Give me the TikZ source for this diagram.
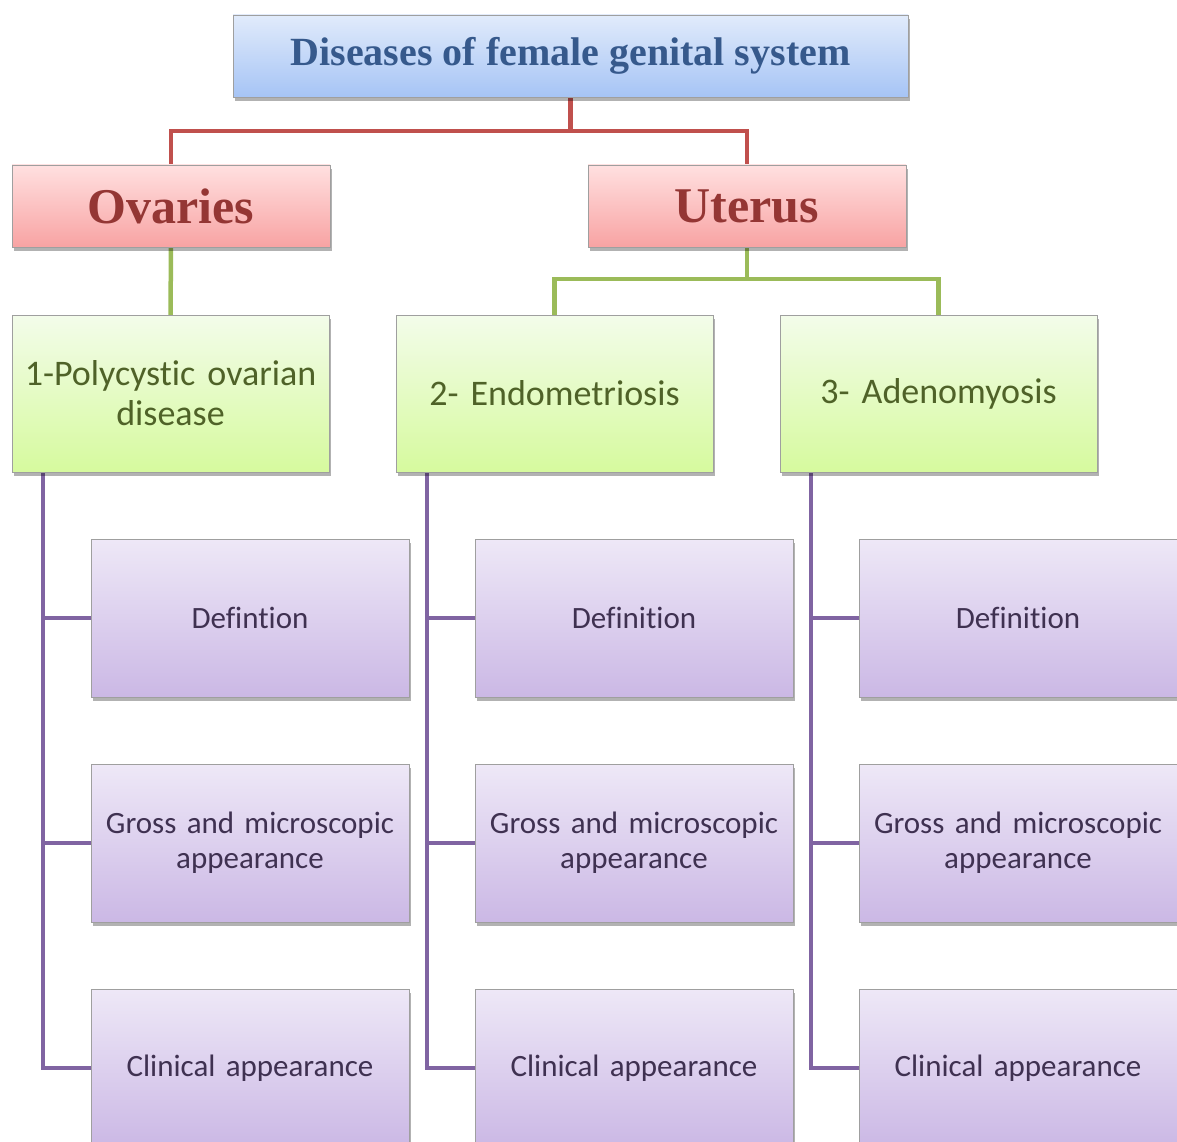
\documentclass[tikz,border=0pt]{standalone}
\usepackage{fontspec}
\setmainfont{Carlito}[Ligatures=NoCommon]
\newfontfamily\titlefont{Liberation Serif}
\usetikzlibrary{shadows,backgrounds}
\definecolor{tblueT}{HTML}{E1EBFB}
\definecolor{tblueB}{HTML}{A6C4F5}
\definecolor{ttext}{HTML}{36598C}
\definecolor{redline}{HTML}{C0504D}
\definecolor{pinkT}{HTML}{FFE0E0}
\definecolor{pinkB}{HTML}{F8A3A3}
\definecolor{redtext}{HTML}{943634}
\definecolor{greenline}{HTML}{9BBB59}
\definecolor{greenT}{HTML}{F3FCEA}
\definecolor{greenB}{HTML}{D6FA9E}
\definecolor{greentext}{HTML}{4F6228}
\definecolor{purpline}{HTML}{8064A2}
\definecolor{purpT}{HTML}{EEE8F7}
\definecolor{purpB}{HTML}{CBB8E5}
\definecolor{purptext}{HTML}{3F3151}
\tikzset{
  boxbase/.style={draw=gray!75, line width=0.8pt, inner sep=0pt, outer sep=0pt, align=center,
    drop shadow={shadow xshift=2pt, shadow yshift=-4pt, opacity=0.3, fill=black}},
  titlebox/.style={boxbase, minimum width=675pt, minimum height=82pt, top color=tblueT, bottom color=tblueB,
    text=ttext, font=\titlefont\bfseries\fontsize{40}{44}\selectfont},
  organbox/.style={boxbase, minimum width=318pt, minimum height=82pt, top color=pinkT, bottom color=pinkB,
    text=redtext, font=\titlefont\bfseries\fontsize{50}{54}\selectfont},
  disbox/.style={boxbase, minimum width=317pt, minimum height=157pt, top color=greenT, bottom color=greenB,
    text=greentext, text width=310pt, font=\fontsize{36}{40}\selectfont},
  itembox/.style={boxbase, minimum width=318pt, minimum height=158pt, top color=purpT, bottom color=purpB,
    text=purptext, text width=310pt, font=\fontsize{31}{35}\selectfont},
  redconn/.style={draw=redline, line width=4.5pt},
  greenconn/.style={draw=greenline, line width=4.5pt},
  purpconn/.style={draw=purpline, line width=4.5pt},
}
\begin{document}
\begin{tikzpicture}[x=1pt, y=-1pt]
\useasboundingbox (0,0) rectangle (1177,1142);
\clip (0,0) rectangle (1177,1142);

\node[titlebox] (title) at (570.5,56) {Diseases of female genital system};
\node[organbox] (ov) at (171,206) {Ovaries};
\node[organbox] (ut) at (747,206) {Uterus};

\node[disbox] (g1) at (170.5,393.5) {1-Polycystic ovarian\\disease};
\node[disbox] (g2) at (554.5,393.5) {2- Endometriosis};
\node[disbox] (g3) at (938.5,393.5) {3- Adenomyosis};

\node[itembox] (p11) at (250,618) {Defintion};
\node[itembox] (p12) at (250,843) {Gross and microscopic\\appearance};
\node[itembox] (p13) at (250,1068) {Clinical appearance};
\node[itembox] (p21) at (634,618) {Definition};
\node[itembox] (p22) at (634,843) {Gross and microscopic\\appearance};
\node[itembox] (p23) at (634,1068) {Clinical appearance};
\node[itembox] (p31) at (1018,618) {Definition};
\node[itembox] (p32) at (1018,843) {Gross and microscopic\\appearance};
\node[itembox] (p33) at (1018,1068) {Clinical appearance};

\begin{scope}[on background layer]
% red connectors
\coordinate (tj) at ([yshift=-34pt]title.south);
\draw[redconn] (title.south) -- (tj) -| (ov.north);
\draw[redconn] (tj) -| (ut.north);

% green connectors
\draw[greenconn] (ov.south) -- (g1.north);
\coordinate (uj) at ([yshift=-32pt]ut.south);
\draw[greenconn] (ut.south) -- (uj) -| (g2.north);
\draw[greenconn] (uj) -| (g3.north);

% purple connectors
\foreach \g/\a/\b/\c in {g1/p11/p12/p13, g2/p21/p22/p23, g3/p31/p32/p33}{
  \coordinate (\g top) at ([xshift=31pt]\g.south west);
  \draw[purpconn, line join=miter] (\g top) |- (\c.west);
  \draw[purpconn] (\g top |- \a.west) -- (\a.west);
  \draw[purpconn] (\g top |- \b.west) -- (\b.west);
}
\end{scope}
\end{tikzpicture}
\end{document}
